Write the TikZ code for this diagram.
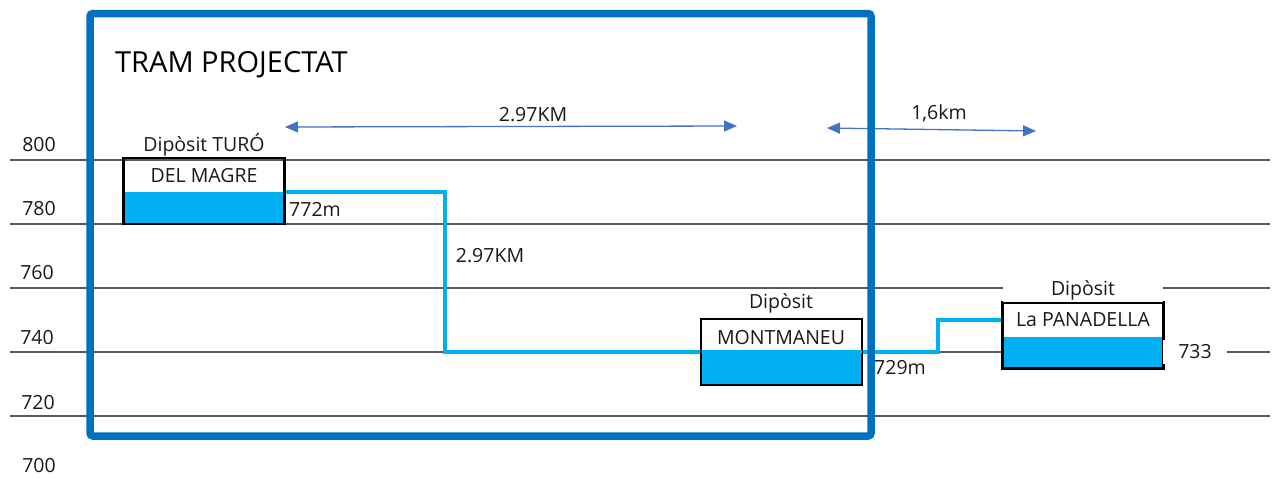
\documentclass[tikz,border=0pt]{standalone}
\usepackage{fontspec}
\setmainfont{Open Sans}
\usetikzlibrary{arrows.meta}
\definecolor{frameblue}{HTML}{0070C0}
\definecolor{pipeblue}{HTML}{00B0F0}
\definecolor{dimblue}{HTML}{4472C4}
\definecolor{gridgray}{HTML}{595959}
\tikzset{
  gridline/.style={draw=gridgray, line width=1.4pt},
  lbl/.style={inner sep=0pt, font=\fontsize{19.5}{22}\selectfont, text=black!90},
  axislbl/.style={inner sep=0pt, font=\fontsize{19.5}{22}\selectfont, text=black!90},
  whitelbl/.style={lbl, fill=white, minimum height=24pt},
  tank/.style={draw=black, line width=1.7pt, minimum width=160pt, minimum height=65pt, inner sep=0pt},
  water/.style={fill=pipeblue, draw=none},
  pipe/.style={draw=pipeblue, line width=3.2pt},
  dim/.style={draw=dimblue, line width=1.3pt, {Triangle[length=13pt,width=11pt]}-{Triangle[length=13pt,width=11pt]}},
  frame/.style={draw=frameblue, line width=7.5pt, rounded corners=3pt}
}
\begin{document}
\begin{tikzpicture}[x=1pt,y=-1pt]
\useasboundingbox (0,0) rectangle (1275,477);
% grid lines
\draw[gridline] (10,160) -- (1270,160);
\draw[gridline] (10,224) -- (1270,224);
\draw[gridline] (10,288) -- (1270,288);
\draw[gridline] (10,352) -- (1270,352);
\draw[gridline] (10,416) -- (1270,416);
% axis labels
\node[axislbl] (a800) at (39,145) {800};
\node[axislbl] (a780) at (39,209) {780};
\node[axislbl] (a760) at (37,273) {760};
\node[axislbl] (a740) at (37,338) {740};
\node[axislbl] (a720) at (38,403) {720};
\node[axislbl] (a700) at (39,466) {700};
% water fills
\fill[water] (124,192) rectangle (284,223);
\fill[water] (701,352) rectangle (862,384);
\fill[water] (1003,337) rectangle (1163,368);
% coordinates for pipe
\coordinate (p1) at (445,192);
\coordinate (p2) at (445,352);
\coordinate (p3) at (938,352);
\coordinate (p4) at (938,320);
% tanks
\node[tank] (turo) at (204,191) {};
\node[tank] (mont) at (781.5,352) {};
\node[tank] (pana) at (1083,335.5) {};
% pipe
\draw[pipe] (turo.east |- p1) -- (p1) -- (p2) -- (p3) -- (p4) -- (pana.west |- p4);
\draw[tank, minimum width=0pt, minimum height=0pt] (turo.north west) rectangle (turo.south east);
\draw[tank, minimum width=0pt, minimum height=0pt] (mont.north west) rectangle (mont.south east);
\draw[tank, minimum width=0pt, minimum height=0pt] (pana.north west) rectangle (pana.south east);
% tank labels
\node[lbl] (turoT) at (204,145) {Dipòsit TURÓ};
\node[lbl] (turoN) at (204,176) {DEL MAGRE};
\node[lbl, anchor=west] (turoH) at (289,209) {772m};
\node[lbl] (montT) at (781,303) {Dipòsit};
\node[lbl] (montN) at (781,338) {MONTMANEU};
\node[lbl, anchor=west] (montH) at (874,368) {729m};
\node[whitelbl, minimum width=160pt] (panaT) at (1083,290) {Dipòsit};
\node[lbl] (panaN) at (1083,320) {La PANADELLA};
\node[whitelbl, minimum width=64pt] (panaH) at (1195,352) {733};
\node[lbl] (vlen) at (490,256) {2.97KM};
% dimension arrows
\coordinate (d1a) at (285,127);
\coordinate (d1b) at (737,126);
\coordinate (d2a) at (827,128);
\coordinate (d2b) at (1036,131);
\draw[dim] (d1a) -- (d1b);
\draw[dim] (d2a) -- (d2b);
\node[lbl] (dim1) at (533,115) {2.97KM};
\node[lbl] (dim2) at (939,113) {1,6km};
% frame
\draw[frame] (90,13.5) rectangle (871,436);
\node[inner sep=0pt, font=\fontsize{29}{33}\selectfont, text=black, anchor=west] (title) at (115,65) {TRAM PROJECTAT};
\end{tikzpicture}
\end{document}
